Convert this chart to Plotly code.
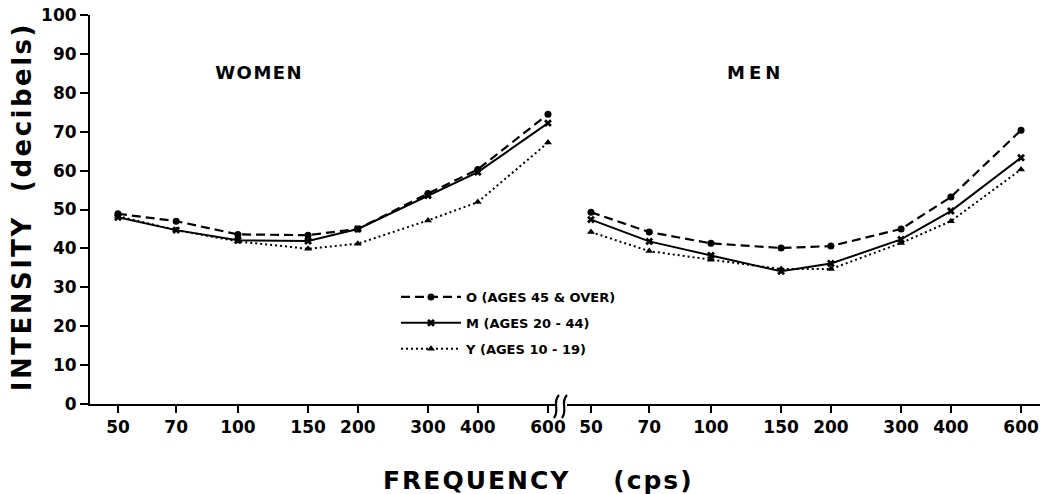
import plotly.graph_objects as go

freqs = [50, 70, 100, 150, 200, 300, 400, 600]
tick_text = ["50", "70", "100", "150", "200", "300", "400", "600"]

women_O = [48.9, 47.0, 43.6, 43.4, 45.0, 54.1, 60.3, 74.5]
women_M = [48.0, 44.7, 42.1, 41.9, 45.0, 53.6, 59.6, 72.2]
women_Y = [48.3, 44.7, 41.8, 39.9, 41.2, 47.2, 51.9, 67.2]

men_O = [49.3, 44.2, 41.3, 40.1, 40.6, 45.0, 53.2, 70.4]
men_M = [47.4, 41.8, 38.2, 34.1, 36.1, 42.3, 49.6, 63.3]
men_Y = [44.2, 39.3, 37.1, 34.7, 34.7, 41.4, 47.0, 60.3]

series_names = ["O (AGES 45 & OVER)", "M (AGES 20 - 44)", "Y (AGES 10 - 19)"]
FONT = "DejaVu Sans"

W, H = 1048, 494
L, R, T, B = 90, 8, 15, 90
PW, PH = W - L - R, H - T - B


def px(X):
    return (X - L) / PW


def py(Y):
    return (H - B - Y) / PH


styles = [
    dict(line=dict(color="black", width=2.2, dash="9px,5px"), marker=dict(symbol="circle", size=7, color="black")),
    dict(line=dict(color="black", width=2.0, dash="solid"), marker=dict(symbol="x", size=7, color="black")),
    dict(line=dict(color="black", width=2.0, dash="2px,3px"), marker=dict(symbol="triangle-up", size=7, color="black")),
]

fig = go.Figure()
for i, (vals, name) in enumerate(zip([women_O, women_M, women_Y], series_names)):
    fig.add_trace(go.Scatter(x=freqs, y=vals, mode="lines+markers", name=name, legendgroup=f"g{i}",
                             xaxis="x", yaxis="y", showlegend=True, **styles[i]))
for i, (vals, name) in enumerate(zip([men_O, men_M, men_Y], series_names)):
    fig.add_trace(go.Scatter(x=freqs, y=vals, mode="lines+markers", name=name, legendgroup=f"g{i}",
                             xaxis="x2", yaxis="y", showlegend=False, **styles[i]))

tickfont = dict(family=FONT, size=17, color="black", weight="bold")
xcommon = dict(type="log", tickvals=freqs, ticktext=tick_text, showline=True,
               linecolor="black", linewidth=2, ticks="outside", ticklen=7, tickwidth=2,
               tickcolor="black", showgrid=False, zeroline=False, tickfont=tickfont,
               anchor="y", automargin=False)

fig.update_layout(
    width=W, height=H,
    margin=dict(l=L, r=R, t=T, b=B, autoexpand=False),
    paper_bgcolor="white", plot_bgcolor="white",
    font=dict(family=FONT, color="black"),
    xaxis=dict(domain=[0.0, px(555)], range=[1.6288, 2.7958], **xcommon),
    xaxis2=dict(domain=[px(567), 1.0], range=[1.6388, 2.8257], **xcommon),
    yaxis=dict(range=[0, 100], tickvals=list(range(0, 101, 10)), showline=True,
               linecolor="black", linewidth=2, ticks="outside", ticklen=8, tickwidth=2,
               tickcolor="black", showgrid=False, zeroline=False, tickfont=tickfont,
               automargin=False),
    legend=dict(x=px(396), y=py(282), xanchor="left", yanchor="top", bgcolor="rgba(0,0,0,0)",
                font=dict(family=FONT, size=13, weight="bold"), itemwidth=60, tracegroupgap=6),
    showlegend=True,
)

fig.add_annotation(text="<b>WOMEN</b>", xref="paper", yref="paper", x=px(259), y=py(72),
                   xanchor="center", yanchor="middle", showarrow=False, font=dict(family=FONT, size=18))
fig.add_annotation(text="<b>MEN</b>", xref="paper", yref="paper", x=px(755), y=py(72),
                   xanchor="center", yanchor="middle", showarrow=False, font=dict(family=FONT, size=18))
fig.add_annotation(text="<b>FREQUENCY    (cps)</b>", xref="paper", yref="paper", x=px(538), y=py(480),
                   xanchor="center", yanchor="middle", showarrow=False, font=dict(family=FONT, size=25))
fig.add_annotation(text="<b>INTENSITY  (decibels)</b>", xref="paper", yref="paper", x=px(22), y=py(207),
                   xanchor="center", yanchor="middle", textangle=-90, showarrow=False,
                   font=dict(family=FONT, size=26))

# axis break mark (two wavy strokes)
for x0 in (554, 562):
    path = (f"M {px(x0)},{py(418)} C {px(x0 + 6)},{py(410)} {px(x0 - 2)},{py(402)} {px(x0 + 5)},{py(395)}")
    fig.add_shape(type="path", path=path, xref="paper", yref="paper",
                  line=dict(color="black", width=2.2))

post = """
document.body.style.margin = '0px';
var sp = {'WOMEN': '1.5px', 'MEN': '4px', 'FREQUENCY': '2px', 'INTENSITY': '2.5px'};
document.querySelectorAll('g.annotation-text-g text').forEach(function (t) {
  var s = t.textContent;
  for (var k in sp) { if (s.indexOf(k) === 0) { t.style.letterSpacing = sp[k]; } }
});
"""

fig.write_html("out.html", post_script=post, config={"displayModeBar": False})
